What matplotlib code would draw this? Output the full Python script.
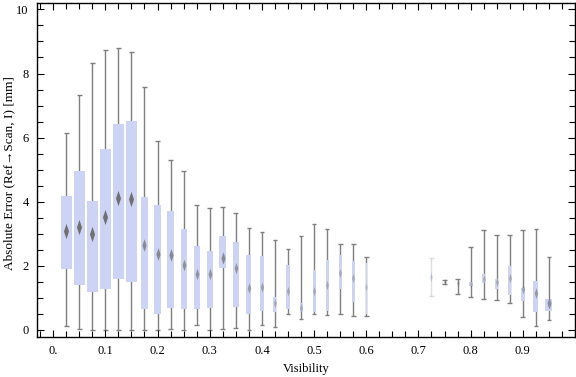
import numpy as np
import matplotlib
matplotlib.use("Agg")
import matplotlib.pyplot as plt
from matplotlib.ticker import MultipleLocator, FixedLocator

plt.rcParams['font.family'] = ['Liberation Serif', 'DejaVu Serif']

# === Data (visibility bins, box-whisker stats) ===
vis = [0.025, 0.05, 0.075, 0.1, 0.125, 0.15, 0.175, 0.2, 0.225, 0.25, 0.275, 0.3,
       0.325, 0.35, 0.375, 0.4, 0.425, 0.45, 0.475, 0.5, 0.525, 0.55, 0.575, 0.6,
       0.725, 0.75, 0.775, 0.8, 0.825, 0.85, 0.875, 0.9, 0.925, 0.95]
w_lo = [0.12, 0.02, 0.0, 0.0, 0.0, 0.0, 0.0, 0.0, 0.02, 0.0, 0.15, 0.0,
        0.02, 0.05, 0.0, 0.15, 0.08, 0.51, 0.35, 0.50, 0.48, 0.49, 0.45, 0.42,
        1.07, 1.43, 1.11, 1.04, 0.98, 0.93, 0.83, 0.40, 0.11, 0.30]
q1 = [1.90, 1.39, 1.17, 1.29, 1.60, 1.51, 0.64, 0.51, 0.70, 0.64, 0.64, 0.70,
      1.92, 0.73, 0.51, 0.60, 0.56, 0.66, 0.56, 0.56, 0.59, 1.27, 0.88, 0.49,
      1.51, 1.47, 1.42, 1.38, 1.45, 1.29, 1.09, 0.91, 0.57, 0.60]
med = [3.08, 3.21, 3.00, 3.52, 4.12, 4.08, 2.66, 2.38, 2.34, 2.04, 1.76, 1.76,
       2.23, 1.93, 1.30, 1.35, 0.83, 1.20, 0.70, 1.20, 1.41, 1.79, 1.61, 1.35,
       1.66, 1.50, 1.46, 1.44, 1.60, 1.50, 1.63, 1.27, 1.15, 0.83]
q3 = [4.19, 4.97, 4.03, 5.66, 6.43, 6.53, 4.16, 3.91, 3.72, 3.16, 2.63, 2.47,
      2.94, 2.75, 2.34, 2.30, 1.04, 2.02, 0.84, 1.88, 2.17, 2.33, 2.16, 2.08,
      1.81, 1.53, 1.50, 1.50, 1.75, 1.59, 2.00, 1.32, 1.53, 0.97]
w_hi = [6.14, 7.33, 8.33, 8.74, 8.80, 8.68, 7.58, 5.90, 5.30, 4.96, 3.90, 3.80,
        3.83, 3.66, 3.18, 3.05, 2.81, 2.53, 2.93, 3.31, 3.15, 2.68, 2.68, 2.27,
        2.26, 1.56, 1.58, 2.58, 3.11, 2.96, 2.96, 3.11, 3.15, 2.29]
# relative sample weight (drives box width like the original chart)
weight = [1.0, 1.0, 1.0, 1.0, 1.0, 1.0, 0.68, 0.7, 0.7, 0.58, 0.55, 0.55,
          0.66, 0.52, 0.45, 0.4, 0.28, 0.3, 0.28, 0.28, 0.27, 0.25, 0.25, 0.12,
          0.1, 0.12, 0.15, 0.25, 0.25, 0.27, 0.28, 0.37, 0.46, 0.64]

box_color = '#cdd3f5'
whisk_color = '#7f7f7f'
full_w = 0.0205
cap_w = 0.009

# slim diamond for the median
diamond = [(0, 1), (0.33, 0), (0, -1), (-0.33, 0), (0, 1)]

fig = plt.figure(figsize=(5.76, 3.77), dpi=100)
ax = fig.add_axes([37 / 576, 40 / 377, 538 / 576, 334 / 377])

for i, x in enumerate(vis):
    bw = full_w * weight[i]
    a = 0.25 if weight[i] < 0.11 else 1.0
    ax.vlines(x, w_lo[i], w_hi[i], color=whisk_color, lw=1.0, alpha=a, zorder=1)
    ax.hlines([w_lo[i], w_hi[i]], x - cap_w / 2, x + cap_w / 2, color=whisk_color,
              lw=1.0, alpha=a, zorder=1)
    ax.bar(x, q3[i] - q1[i], bottom=q1[i], width=bw, color=box_color,
           edgecolor='none', zorder=2)
    ms = 5 + 6 * weight[i]
    ax.plot(x, med[i], marker=diamond, ms=ms, mew=0, color='#707070',
            alpha=min(1.0, 0.2 + 0.8 * weight[i]), zorder=3)

ax.set_xlim(-0.031, 1.0)
ax.set_ylim(-0.22, 10.2)

ax.xaxis.set_major_locator(FixedLocator(np.arange(0, 0.95, 0.1)))
ax.set_xticklabels(['0.'] + ['%.1f' % v for v in np.arange(0.1, 0.95, 0.1)])
ax.xaxis.set_minor_locator(MultipleLocator(0.025))
ax.yaxis.set_major_locator(MultipleLocator(2))
ax.yaxis.set_minor_locator(MultipleLocator(0.5))

ax.tick_params(which='both', direction='in', top=True, right=True,
               labelsize=9, width=0.8, pad=6)
ax.tick_params(which='major', length=5)
ax.tick_params(which='minor', length=4)
for sp in ax.spines.values():
    sp.set_linewidth(1.0)

ax.set_xlabel('Visibility', fontsize=9, labelpad=4)
ax.set_ylabel('Absolute Error (Ref\u2192Scan, I) [mm]', fontsize=9.5,
              va='center')
ax.yaxis.set_label_coords(-0.052, 0.49)

fig.savefig('out.png', dpi=100)
